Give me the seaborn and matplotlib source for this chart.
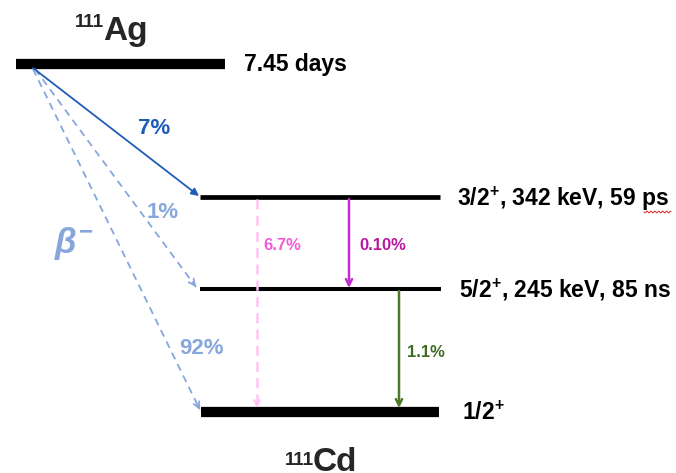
import numpy as np
import pandas as pd
import matplotlib
matplotlib.use("Agg")
import matplotlib.pyplot as plt
import seaborn as sns

# ---------------- data ----------------
parent = "Ag"
daughter = "Cd"
mass_number = "111"
level_names = ["Ag", "3/2+", "5/2+", "1/2+"]
level_labels = ["7.45 days", "3/2$^{+}$, 342 keV, 59 ps", "5/2$^{+}$, 245 keV, 85 ns", "1/2$^{+}$"]
beta_targets = ["3/2+", "5/2+", "1/2+"]
beta_branches = ["7%", "1%", "92%"]
gamma_from = ["3/2+", "3/2+", "5/2+"]
gamma_to = ["1/2+", "5/2+", "1/2+"]
gamma_branches = ["6.7%", "0.10%", "1.1%"]

# ---------------- layout (pixel space) ----------------
W, H = 676, 473
lvl_y = {"Ag": 64, "3/2+": 197, "5/2+": 289, "1/2+": 412}
lvl_x = {"Ag": (16, 225), "3/2+": (200, 440), "5/2+": (200, 441), "1/2+": (201, 439)}
lvl_lw = {"Ag": 7.4, "3/2+": 3.4, "5/2+": 2.9, "1/2+": 7.4}
lbl_pos = {"Ag": (244, 71), "3/2+": (457, 206), "5/2+": (459, 297), "1/2+": (462, 420)}

sns.set_theme(style="white")
plt.rcParams["font.family"] = ["Liberation Sans", "DejaVu Sans"]
plt.rcParams["font.weight"] = "bold"
plt.rcParams["mathtext.fontset"] = "custom"
plt.rcParams["mathtext.rm"] = "Liberation Sans:bold"
plt.rcParams["mathtext.bf"] = "Liberation Sans:bold"
plt.rcParams["mathtext.it"] = "Liberation Sans:bold:italic"
plt.rcParams["mathtext.default"] = "rm"

fig = plt.figure(figsize=(W / 100, H / 100), dpi=100)
ax = fig.add_axes([0, 0, 1, 1])

# levels
rows = []
for n in level_names:
    for x in lvl_x[n]:
        rows.append({"level": n, "x": x, "y": lvl_y[n]})
df = pd.DataFrame(rows)
for n in level_names:
    sns.lineplot(data=df[df.level == n], x="x", y="y", color="black",
                 lw=lvl_lw[n], ax=ax, legend=False, solid_capstyle="butt")
ax.set_xlim(0, W)
ax.set_ylim(H, 0)
ax.axis("off")

for n, lab in zip(level_names, level_labels):
    ax.text(*lbl_pos[n], lab, fontsize=16.5, fontweight="bold", color="black",
            ha="left", va="baseline")

# red spell-check underline under "ps"
wx = np.linspace(644, 671, 40)
ax.plot(wx, 212 + 0.9 * np.sin((wx - 644) * 1.6), color="#e02020", lw=0.7)

# nucleus names
ax.text(103, 40, parent, fontsize=24, fontweight="bold", ha="left", va="baseline")
ax.text(104, 27, mass_number, fontsize=13.5, fontweight="bold", ha="right", va="baseline")
ax.text(313, 471, daughter, fontsize=24, fontweight="bold", ha="left", va="baseline")
ax.text(314, 465, mass_number, fontsize=13.5, fontweight="bold", ha="right", va="baseline")

# beta decays
dark_blue = "#1f5cb8"
light_blue = "#86a6dc"
beta_start = {"3/2+": (33, 68), "5/2+": (35, 69), "1/2+": (33, 69)}
beta_end = {"3/2+": (199, 196), "5/2+": (196, 287), "1/2+": (200, 410)}
beta_lbl = {"3/2+": (154, 134), "5/2+": (163, 218), "1/2+": (201, 354)}
for tgt, br in zip(beta_targets, beta_branches):
    x0, y0 = beta_start[tgt]
    x1, y1 = beta_end[tgt]
    solid = tgt == "3/2+"
    col = dark_blue if solid else light_blue
    if solid:
        ax.annotate("", xy=(x1, y1), xytext=(x0, y0),
                    arrowprops=dict(arrowstyle="-|>", color=col, lw=1.3,
                                    mutation_scale=11, shrinkA=0, shrinkB=0))
    else:
        ax.plot([x0, x1], [y0, y1], color=col, lw=1.3, ls=(0, (4, 3)))
        d = np.array([x1 - x0, y1 - y0], float)
        d /= np.hypot(*d)
        ax.annotate("", xy=(x1, y1), xytext=(x1 - 6 * d[0], y1 - 6 * d[1]),
                    arrowprops=dict(arrowstyle="->", color=col, lw=1.3,
                                    mutation_scale=11, shrinkA=0, shrinkB=0))
    ax.text(*beta_lbl[tgt], br, fontsize=16, fontweight="bold", color=col,
            ha="center", va="baseline")

ax.text(54, 253, "$\\mathit{β}^{-}$", fontsize=25, color=light_blue,
        ha="left", va="baseline")

# gamma transitions
g_x = {("3/2+", "1/2+"): 257, ("3/2+", "5/2+"): 349, ("5/2+", "1/2+"): 399}
g_col = {("3/2+", "1/2+"): "#ffc4f4", ("3/2+", "5/2+"): "#c02ed0", ("5/2+", "1/2+"): "#4a7a2a"}
g_tcol = {("3/2+", "1/2+"): "#f25ad6", ("3/2+", "5/2+"): "#b8189e", ("5/2+", "1/2+"): "#3d6b22"}
g_lbl = {("3/2+", "1/2+"): (263, 250), ("3/2+", "5/2+"): (359, 250), ("5/2+", "1/2+"): (407, 357)}
for a, b, br in zip(gamma_from, gamma_to, gamma_branches):
    key = (a, b)
    x = g_x[key]
    ya = lvl_y[a] + 2
    yb = lvl_y[b] - (4 if b == "1/2+" else 1)
    if a == "3/2+" and b == "1/2+":
        ax.plot([x, x], [ya, yb], color=g_col[key], lw=1.8, ls=(0, (4, 2.5)))
        ax.annotate("", xy=(x, yb), xytext=(x, yb - 6),
                    arrowprops=dict(arrowstyle="->", color=g_col[key], lw=1.5,
                                    mutation_scale=10, shrinkA=0, shrinkB=0))
    else:
        ax.annotate("", xy=(x, yb), xytext=(x, ya),
                    arrowprops=dict(arrowstyle="->", color=g_col[key], lw=1.8,
                                    mutation_scale=11, shrinkA=0, shrinkB=0))
    ax.text(*g_lbl[key], br, fontsize=12, fontweight="bold", color=g_tcol[key],
            ha="left", va="baseline")

fig.savefig("out.png", dpi=100, facecolor="white")
